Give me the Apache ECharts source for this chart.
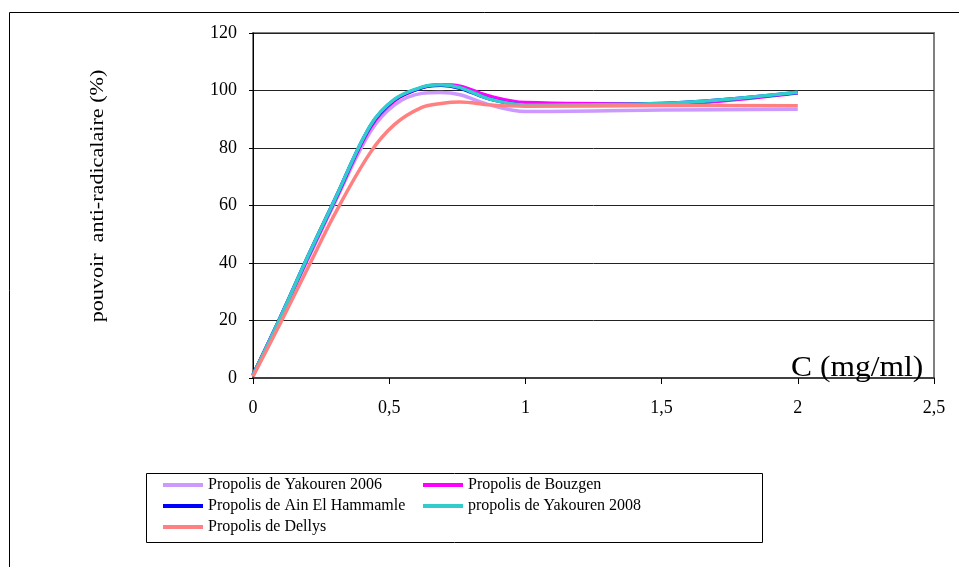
<!DOCTYPE html>
<html>
<head>
<meta charset="utf-8">
<script src="https://cdn.jsdelivr.net/npm/echarts@6/dist/echarts.min.js"></script>
<style>
html,body{margin:0;padding:0;background:#fff;}
#chart{width:959px;height:567px;}
</style>
</head>
<body>
<div id="chart"></div>
<script>
// Concentration (mg/ml)
var concentrations = [0, 0.1, 0.2, 0.3, 0.43, 0.52, 0.62, 0.69, 0.76, 0.87, 1, 1.5, 2];
var seriesNames = ["Propolis de Yakouren 2006", "Propolis de Bouzgen", "Propolis de Ain El Hammamle", "propolis de Yakouren 2008", "Propolis de Dellys"];
var yakouren2006 = [1, 20.5, 41, 61, 85.5, 95, 99, 99.3, 98.5, 95, 92.7, 93.2, 93.5];
var bouzgen      = [1, 21, 41.5, 61.5, 87, 96.5, 101, 102, 101.5, 98, 95.8, 95.3, 99.2];
var ainHammamle  = [1, 21, 42, 62, 87.5, 96.8, 101, 101.8, 100.8, 97, 95, 95.5, 99.3];
var yakouren2008 = [1, 21, 42, 62, 87.7, 97, 101.2, 102, 101, 97, 95, 95.5, 99.4];
var dellys       = [0.5, 19, 38, 57, 78.3, 88.2, 94.1, 95.5, 96, 95, 94.5, 94.8, 94.7];
var xTicks = [0, 0.5, 1, 1.5, 2, 2.5];
var yTicks = [0, 20, 40, 60, 80, 100, 120];

var allValues = [yakouren2006, bouzgen, ainHammamle, yakouren2008, dellys];
var colors = ["#CC99FF", "#FF00FF", "#0000FF", "#33CCCC", "#FF8080"];
var font = "'Liberation Serif', 'Times New Roman', serif";

function pairs(vals) {
  return concentrations.map(function (c, i) { return [c, vals[i]]; });
}

var series = seriesNames.map(function (name, k) {
  return {
    name: name,
    type: 'line',
    data: pairs(allValues[k]),
    smooth: 0.35,
    showSymbol: false,
    symbol: 'none',
    lineStyle: { color: colors[k], width: 3.5 },
    itemStyle: { color: colors[k] },
    z: 3 + k
  };
});

// legend placement: 2 columns
var legendPos = [[158, 472], [418, 472], [158, 493], [418, 493], [158, 514]];
var legends = seriesNames.map(function (name, k) {
  return {
    data: [name],
    left: legendPos[k][0],
    top: legendPos[k][1],
    icon: 'rect',
    itemWidth: 40,
    itemHeight: 4,
    selectedMode: false,
    textStyle: { fontFamily: font, fontSize: 16, color: '#000' }
  };
});

var chart = echarts.init(document.getElementById('chart'));
chart.setOption({
  animation: false,
  backgroundColor: '#fff',
  grid: { left: 253, top: 33, right: 25, bottom: 189, show: true, borderColor: '#808080', borderWidth: 2 },
  legend: legends,
  xAxis: {
    type: 'value',
    min: xTicks[0],
    max: xTicks[xTicks.length - 1],
    interval: 0.5,
    axisLine: { show: true, onZero: false, lineStyle: { color: '#404040', width: 2 } },
    axisTick: { show: true, inside: false, length: 6, lineStyle: { color: '#000', width: 1 } },
    splitLine: { show: false },
    axisLabel: {
      margin: 21,
      fontFamily: font, fontSize: 18, color: '#000',
      formatter: function (v) { return String(v).replace('.', ','); }
    }
  },
  yAxis: {
    type: 'value',
    min: yTicks[0],
    max: yTicks[yTicks.length - 1],
    interval: 20,
    axisLine: { show: true, lineStyle: { color: '#000', width: 1 } },
    axisTick: { show: true, inside: false, length: 4, lineStyle: { color: '#000', width: 1 } },
    splitLine: { show: true, lineStyle: { color: '#222', width: 1 } },
    axisLabel: { margin: 16, fontFamily: font, fontSize: 18, color: '#000' }
  },
  graphic: [
    {
      type: 'rect', silent: true, z: -1,
      shape: { x: 9.5, y: 12.5, width: 1000, height: 1000 },
      style: { fill: 'none', stroke: '#000', lineWidth: 1 }
    },
    {
      type: 'rect', silent: true,
      shape: { x: 146.5, y: 473.5, width: 616, height: 69 },
      style: { fill: 'none', stroke: '#000', lineWidth: 1 }
    },
    {
      type: 'text', silent: true,
      x: 98, y: 196, rotation: Math.PI / 2, scaleX: 1.23,
      style: {
        text: 'pouvoir  anti-radicalaire (%)',
        font: '18px ' + font, fill: '#000',
        align: 'center', verticalAlign: 'middle'
      }
    },
    {
      type: 'text', silent: true, z: 10,
      x: 791, y: 368, scaleX: 1.05,
      style: {
        text: 'C (mg/ml)',
        font: '30px ' + font, fill: '#000',
        align: 'left', verticalAlign: 'middle'
      }
    }
  ],
  series: series
});
</script>
</body>
</html>
